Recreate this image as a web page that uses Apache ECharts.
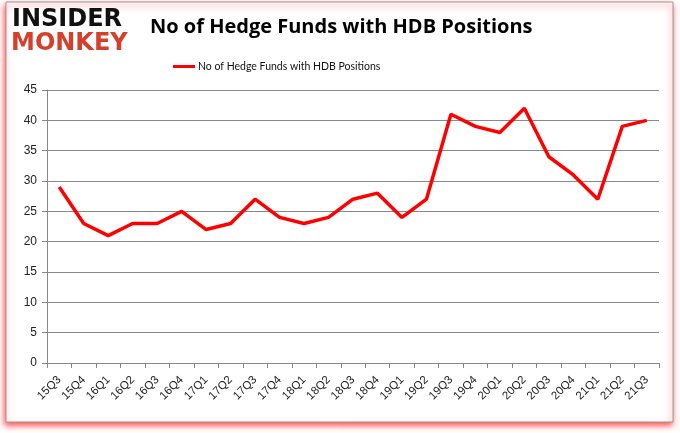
<!DOCTYPE html>
<html><head><meta charset="utf-8">
<script src="https://cdn.jsdelivr.net/npm/echarts@6/dist/echarts.min.js"></script>
<style>html,body{margin:0;padding:0;background:#fff}#c{width:680px;height:433px}</style>
</head><body><div id="c"></div>
<script>
var categories = ['15Q3','15Q4','16Q1','16Q2','16Q3','16Q4','17Q1','17Q2','17Q3','17Q4','18Q1','18Q2','18Q3','18Q4','19Q1','19Q2','19Q3','19Q4','20Q1','20Q2','20Q3','20Q4','21Q1','21Q2','21Q3'];
var hedgeFunds = [29,23,21,23,23,25,22,23,27,24,23,24,27,28,24,27,41,39,38,42,34,31,27,39,40];
var seriesName = 'No of Hedge Funds with HDB Positions';
var titleText = 'No of Hedge Funds with HDB Positions';

var chart = echarts.init(document.getElementById('c'));
chart.setOption({
  animation: false,
  backgroundColor: '#fff',
  title: {
    text: titleText, left: 145, top: 12,
    textStyle: {fontFamily: 'Open Sans', fontSize: 20, fontWeight: 'bold', color: '#000'}
  },
  legend: {
    data: [seriesName], left: 168, top: 56, itemWidth: 22, itemHeight: 3, itemGap: 4,
    icon: 'rect',
    textStyle: {fontFamily: 'Lato', fontSize: 10.5, color: '#111', padding: [0,0,0,-2]}
  },
  graphic: [
    {type: 'rect', shape: {x: 6, y: 2, width: 667, height: 420}, style: {fill: '#fff', stroke: '#999', lineWidth: 1, shadowBlur: 6, shadowColor: 'rgba(255,0,0,0.7)', shadowOffsetX: -1, shadowOffsetY: 3}, z: -1},
    {type: 'text', left: 12, top: 8, style: {text: 'INSIDER', fill: '#111', font: 'bold 24px "DejaVu Sans"'}},
    {type: 'text', left: 11, top: 32, style: {text: 'MONKEY', fill: '#d4402b', font: 'bold 24px "DejaVu Sans"'}}
  ],
  grid: {left: 47, right: 21, top: 90, bottom: 70},
  xAxis: {
    type: 'category', data: categories, boundaryGap: true,
    axisLine: {lineStyle: {color: '#888'}},
    axisTick: {show: true, alignWithLabel: false, lineStyle: {color: '#888'}},
    axisLabel: {rotate: 45, interval: 0, fontFamily: 'Liberation Sans', fontSize: 11.5, color: '#222', margin: 15}
  },
  yAxis: {
    type: 'value', min: 0, max: 45, interval: 5,
    axisLine: {show: true, lineStyle: {color: '#888'}},
    axisTick: {show: true, lineStyle: {color: '#888'}},
    splitLine: {lineStyle: {color: '#888'}},
    axisLabel: {fontFamily: 'Liberation Sans', fontSize: 12, color: '#222', margin: 10}
  },
  series: [{
    name: seriesName, type: 'line', data: hedgeFunds,
    symbol: 'none', lineStyle: {color: '#ff0000', width: 3.5}, itemStyle: {color: '#ff0000'}
  }]
});
</script></body></html>
